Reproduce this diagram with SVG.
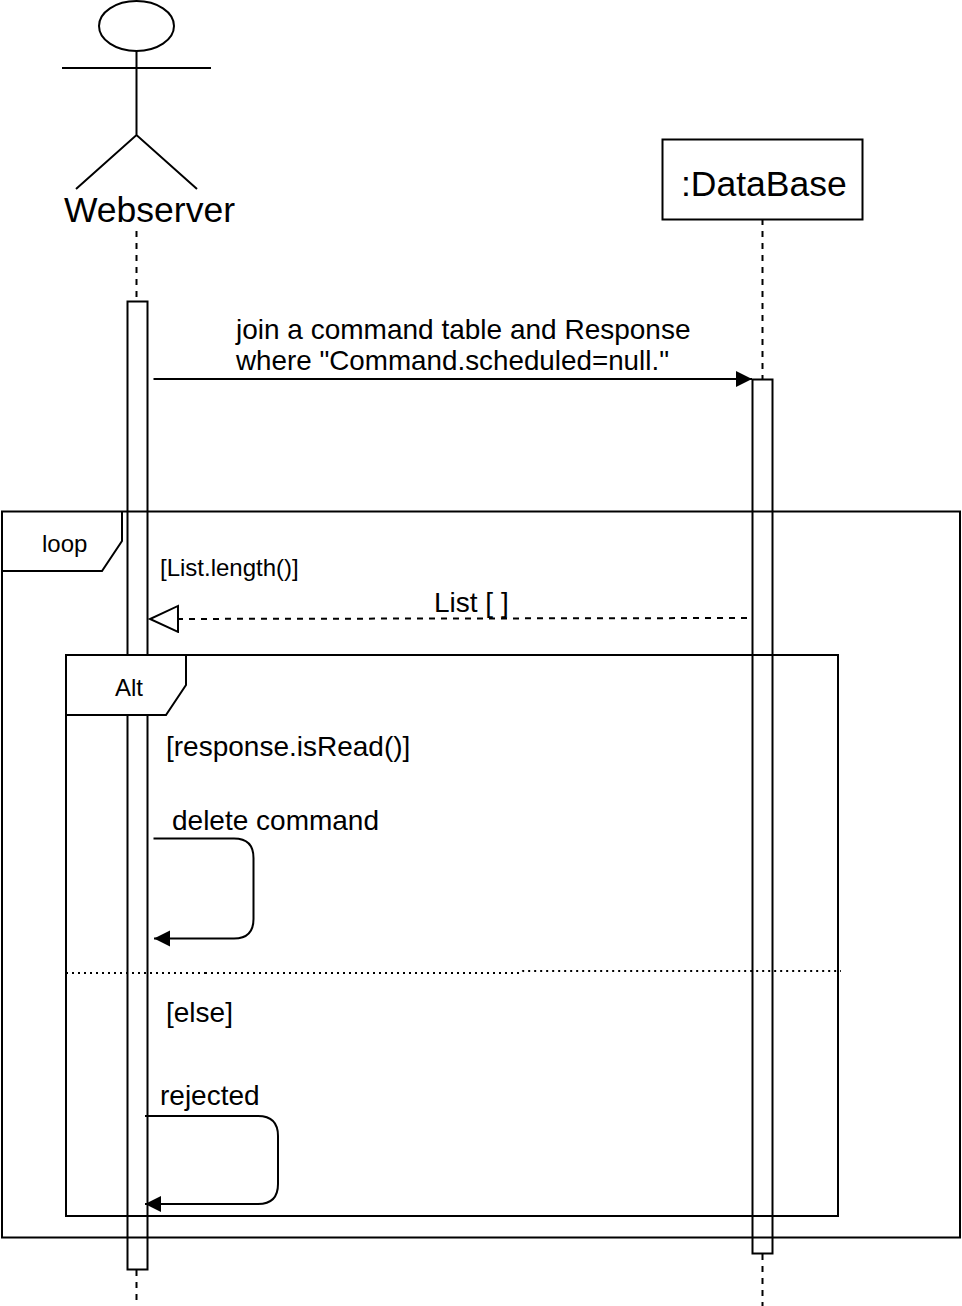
<svg xmlns="http://www.w3.org/2000/svg" width="962" height="1306" viewBox="0 0 962 1306">
<defs>
<marker id="solid" markerUnits="userSpaceOnUse" markerWidth="18" markerHeight="18" refX="16" refY="8" orient="auto"><path d="M0 0L16 8L0 16Z" fill="#000"/></marker>
<marker id="open" markerUnits="userSpaceOnUse" markerWidth="32" markerHeight="32" refX="29" refY="14" orient="auto"><path d="M1 1L29 14L1 27Z" fill="#fff" stroke="#000" stroke-width="2"/></marker>
</defs>
<style>
text{font-family:"Liberation Sans",Arial,sans-serif;fill:#000}
.s{fill:none;stroke:#000;stroke-width:2}
.w{fill:#fff;stroke:#000;stroke-width:2}
.d{fill:none;stroke:#000;stroke-width:2;stroke-dasharray:6 6}
.o{fill:none;stroke:#000;stroke-width:2;stroke-dasharray:2 4}
.m{font-size:28px}
.n{font-size:24px}
.t{font-size:35.500px}
</style>
<rect width="962" height="1306" fill="#fff"/>
<g id="lifelines">
<path class="d" d="M136.500 231V301"/>
<path class="d" d="M136.500 1270V1306"/>
<path class="d" d="M762.500 219V379"/>
<path class="d" d="M762.500 1254V1306"/>
</g>
<g id="webserver">
<ellipse class="s" cx="136.500" cy="26" rx="37.500" ry="25"/>
<path class="s" d="M136.500 51V135M62 68H211M76 189L136.500 135L197 189"/>
<text class="t" x="64" y="222">Webserver</text>
</g>
<g id="database">
<rect class="s" x="662.500" y="139.500" width="200" height="80"/>
<text class="t" x="681" y="196">:DataBase</text>
</g>
<g id="activation-webserver"><rect class="w" x="127.500" y="301.500" width="20" height="968"/></g>
<g id="activation-database"><rect class="w" x="752.500" y="379.500" width="20" height="874"/></g>
<g id="loop">
<rect class="s" x="2" y="511.500" width="958" height="726"/>
<path class="s" d="M2 571H102L122 541V511"/>
<text class="n" x="42" y="552">loop</text>
<text class="n" x="160" y="576">[List.length()]</text>
</g>
<g id="alt">
<rect class="s" x="66" y="655" width="772" height="561"/>
<path class="w" d="M66 655H186V685L166 715H66Z"/>
<text class="n" x="115" y="696">Alt</text>
<text class="m" x="166" y="756">[response.isRead()]</text>
<text class="m" x="172" y="830">delete command</text>
<text class="m" x="166" y="1022">[else]</text>
<text class="m" x="160" y="1105">rejected</text>
<path class="o" d="M66 973H205M205 973H521L523 971H841"/>
</g>
<g id="connectors">
<path class="s" marker-end="url(#solid)" d="M153.500 379H752"/>
<path class="d" marker-end="url(#open)" d="M747 618L150 619"/>
<path class="s" marker-end="url(#solid)" d="M153.500 838.500H234Q253.500 838.500 253.500 858V919Q253.500 938.500 234 938.500H154"/>
<path class="s" marker-end="url(#solid)" d="M145 1116H258Q278 1116 278 1136V1184Q278 1204 258 1204H145"/>
</g>
<g id="message-labels">
<text class="m" x="236" y="339">join a command table and Response</text>
<text class="m" x="236" y="370" textLength="433" lengthAdjust="spacingAndGlyphs">where "Command.scheduled=null."</text>
<text class="m" x="434" y="612">List [ ]</text>
</g>
</svg>
